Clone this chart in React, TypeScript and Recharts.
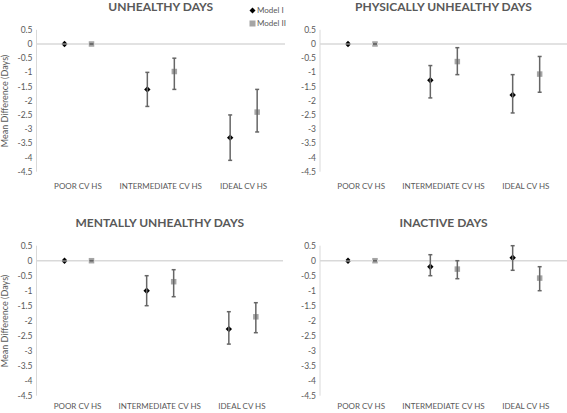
import React from "react";
import { ComposedChart, Bar, ErrorBar, XAxis, YAxis, ReferenceLine } from "recharts";

const categories = ["POOR CV HS", "INTERMEDIATE CV HS", "IDEAL CV HS"];
const yTicks = [0.5, 0, -0.5, -1, -1.5, -2, -2.5, -3, -3.5, -4, -4.5];
const modelNames = ["Model I", "Model II"];

// unhealthy days
const udModel1 = [0, -1.6, -3.3];
const udModel1Low = [0, -2.2, -4.1];
const udModel1High = [0, -1.0, -2.5];
const udModel2 = [0, -0.97, -2.4];
const udModel2Low = [0, -1.6, -3.1];
const udModel2High = [0, -0.5, -1.6];

// physically unhealthy days
const pudModel1 = [0, -1.28, -1.8];
const pudModel1Low = [0, -1.9, -2.43];
const pudModel1High = [0, -0.76, -1.08];
const pudModel2 = [0, -0.62, -1.06];
const pudModel2Low = [0, -1.08, -1.7];
const pudModel2High = [0, -0.13, -0.44];

// mentally unhealthy days
const mudModel1 = [0, -1.0, -2.28];
const mudModel1Low = [0, -1.5, -2.78];
const mudModel1High = [0, -0.5, -1.7];
const mudModel2 = [0, -0.7, -1.87];
const mudModel2Low = [0, -1.2, -2.4];
const mudModel2High = [0, -0.3, -1.4];

// inactive days
const idModel1 = [0, -0.2, 0.1];
const idModel1Low = [0, -0.5, -0.32];
const idModel1High = [0, 0.2, 0.5];
const idModel2 = [0, -0.28, -0.58];
const idModel2Low = [0, -0.6, -1.0];
const idModel2High = [0, 0, -0.2];

const buildRows = (
  m1: number[], lo1: number[], hi1: number[],
  m2: number[], lo2: number[], hi2: number[]
) =>
  categories.map((cat, i) => ({
    cat,
    m1: m1[i],
    e1: [m1[i] - lo1[i], hi1[i] - m1[i]],
    z1: 0,
    m2: m2[i],
    e2: [m2[i] - lo2[i], hi2[i] - m2[i]],
    z2: 0,
  }));

const GREY = "#595959";

const Blank = () => <g />;

const Diamond = (p: any) => {
  const cx = p.x + p.width / 2;
  const cy = p.y;
  const r = 3.2;
  return <path d={`M${cx},${cy - r}L${cx + r},${cy}L${cx},${cy + r}L${cx - r},${cy}Z`} fill="#000" />;
};

const Square = (p: any) => {
  const cx = p.x + p.width / 2;
  const cy = p.y;
  const s = 5.5;
  return <rect x={cx - s / 2} y={cy - s / 2} width={s} height={s} fill="#a5a5a5" />;
};

type PanelProps = {
  title: string;
  rows: any[];
  left: number;
  top: number;
  width: number;
  height: number;
  axisX: number;
  plotRight: number;
  plotTop: number;
  plotBottom: number;
  labelY: number;
  yLabel?: boolean;
  legend?: boolean;
};

const Panel = (p: PanelProps) => {
  const xh = 14;
  const margin = {
    top: p.plotTop,
    right: p.width - p.plotRight,
    left: 0,
    bottom: p.height - p.plotBottom - xh,
  };
  const plotCenter = (p.axisX + p.plotRight) / 2;
  return (
    <div style={{ position: "absolute", left: p.left, top: p.top, width: p.width, height: p.height }}>
      <div
        style={{
          position: "absolute",
          left: plotCenter - 150,
          width: 300,
          top: p.plotTop - 30,
          textAlign: "center",
          fontWeight: 700,
          fontSize: 12,
          color: GREY,
          lineHeight: "14px",
        }}
      >
        {p.title}
      </div>
      {p.yLabel && (
        <div
          style={{
            position: "absolute",
            left: 5 - 60,
            width: 120,
            top: (p.plotTop + p.plotBottom) / 2 - 6,
            textAlign: "center",
            fontSize: 9,
            lineHeight: "12px",
            color: GREY,
            transform: "rotate(-90deg)",
          }}
        >
          Mean Difference (Days)
        </div>
      )}
      {p.legend && (
        <div style={{ position: "absolute", left: 249, top: 4, fontSize: 8, color: GREY, lineHeight: "13px" }}>
          <div style={{ display: "flex", alignItems: "center" }}>
            <svg width={7} height={7} style={{ marginRight: 1 }}>
              <path d="M3.5,0.5L6.5,3.5L3.5,6.5L0.5,3.5Z" fill="#000" />
            </svg>
            {modelNames[0]}
          </div>
          <div style={{ display: "flex", alignItems: "center" }}>
            <svg width={7} height={7} style={{ marginRight: 1 }}>
              <rect x={0.5} y={0.5} width={6} height={6} fill="#a5a5a5" />
            </svg>
            {modelNames[1]}
          </div>
        </div>
      )}
      <ComposedChart width={p.width} height={p.height} data={p.rows} margin={margin} barGap={11}>
        <XAxis
          dataKey="cat"
          axisLine={false}
          tickLine={false}
          tickSize={0}
          tickMargin={p.labelY - p.plotBottom - 3}
          height={xh}
          interval={0}
          tick={{ fontSize: 8, fill: GREY }}
        />
        <YAxis
          type="number"
          domain={[-4.5, 0.5]}
          ticks={yTicks}
          interval={0}
          allowDataOverflow
          width={p.axisX}
          axisLine={{ stroke: "#d9d9d9" }}
          tickLine={false}
          tickSize={0}
          tickMargin={4}
          tick={{ fontSize: 8.5, fill: GREY }}
        />
        <ReferenceLine y={0} stroke="#d9d9d9" strokeWidth={1.5} />
        <Bar dataKey="m1" stackId="a" barSize={16} shape={Blank} isAnimationActive={false}>
          <ErrorBar dataKey="e1" width={2} strokeWidth={1.5} stroke="#666" direction="y" />
        </Bar>
        <Bar dataKey="z1" stackId="a" barSize={16} shape={Diamond} isAnimationActive={false} />
        <Bar dataKey="m2" stackId="b" barSize={16} shape={Blank} isAnimationActive={false}>
          <ErrorBar dataKey="e2" width={2} strokeWidth={1.5} stroke="#666" direction="y" />
        </Bar>
        <Bar dataKey="z2" stackId="b" barSize={16} shape={Square} isAnimationActive={false} />
      </ComposedChart>
    </div>
  );
};

export default function App() {
  return (
    <div
      style={{
        position: "absolute",
        left: 0,
        top: 0,
        width: 567,
        height: 413,
        background: "#fff",
        fontFamily: "Lato, 'Open Sans', sans-serif",
        overflow: "hidden",
      }}
    >
      <Panel
        title="UNHEALTHY DAYS"
        rows={buildRows(udModel1, udModel1Low, udModel1High, udModel2, udModel2Low, udModel2High)}
        left={0} top={0} width={290} height={205}
        axisX={36.5} plotRight={285} plotTop={29.8} plotBottom={171.7} labelY={186.7}
        yLabel legend
      />
      <Panel
        title="PHYSICALLY UNHEALTHY DAYS"
        rows={buildRows(pudModel1, pudModel1Low, pudModel1High, pudModel2, pudModel2Low, pudModel2High)}
        left={285} top={0} width={282} height={205}
        axisX={35} plotRight={282} plotTop={29.8} plotBottom={171.7} labelY={186.7}
      />
      <Panel
        title="MENTALLY UNHEALTHY DAYS"
        rows={buildRows(mudModel1, mudModel1Low, mudModel1High, mudModel2, mudModel2Low, mudModel2High)}
        left={0} top={205} width={290} height={208}
        axisX={36.5} plotRight={283} plotTop={40.7} plotBottom={190.7} labelY={201.7}
        yLabel
      />
      <Panel
        title="INACTIVE DAYS"
        rows={buildRows(idModel1, idModel1Low, idModel1High, idModel2, idModel2Low, idModel2High)}
        left={285} top={205} width={282} height={208}
        axisX={35} plotRight={282} plotTop={40.7} plotBottom={190.7} labelY={201.7}
      />
    </div>
  );
}
